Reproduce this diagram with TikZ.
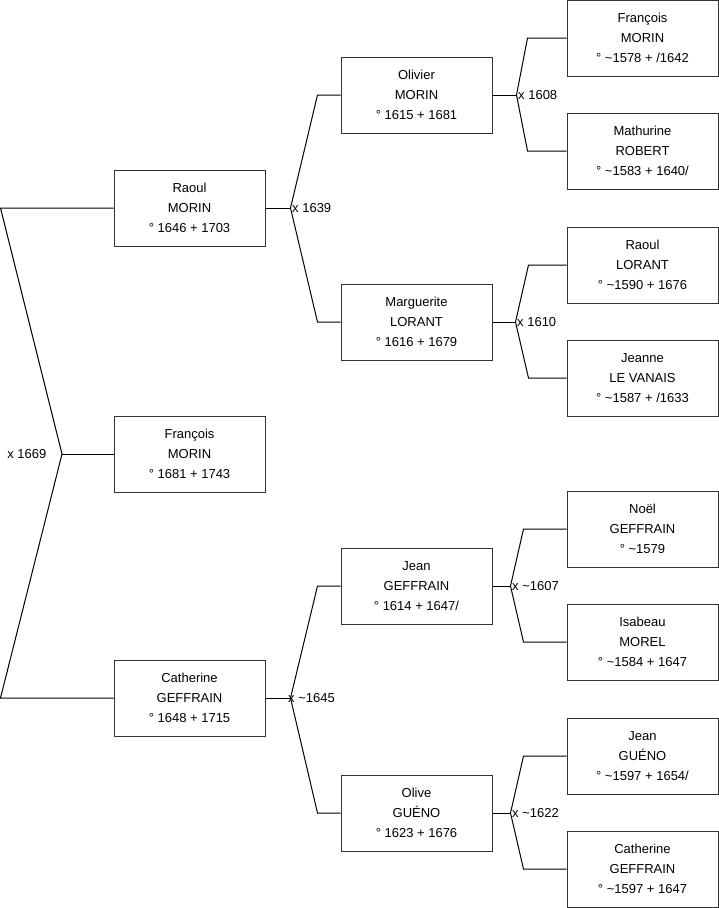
\documentclass[tikz,border=0pt]{standalone}
\usepackage{fontspec}
\setmainfont{Liberation Sans}
\usetikzlibrary{positioning}
\definecolor{boxline}{RGB}{51,51,51}

\begin{document}
\begin{tikzpicture}[
    x=1pt, y=-1pt,
    person/.style={rectangle, draw=boxline, line width=1pt, minimum width=151pt, minimum height=76pt, inner sep=0pt, align=center, font=\fontsize{13}{20}\selectfont},
    link/.style={draw=black, line width=1pt},
    union/.style={font=\fontsize{13}{16}\selectfont, inner sep=1.5pt}
]
    \useasboundingbox (0,0) rectangle (719,908);
    \coordinate (margin) at (0.5,0);

    % Generation 1
    \node[person] (raoul) at (189.5,208) {Raoul\\MORIN\\° 1646 + 1703};
    \node[person] (francois) at (189.5,454) {François\\MORIN\\° 1681 + 1743};
    \node[person] (catherine) at (189.5,698) {Catherine\\GEFFRAIN\\° 1648 + 1715};

    % Generation 2
    \node[person, right=75pt of raoul, yshift=113pt] (olivier) {Olivier\\MORIN\\° 1615 + 1681};
    \node[person, right=75pt of raoul, yshift=-114pt] (marguerite) {Marguerite\\LORANT\\° 1616 + 1679};
    \node[person, right=75pt of catherine, yshift=112pt] (jean) {Jean\\GEFFRAIN\\° 1614 + 1647/};
    \node[person, right=75pt of catherine, yshift=-115pt] (olive) {Olive\\GUÉNO\\° 1623 + 1676};

    % Generation 3
    \node[person, right=74pt of olivier, yshift=57pt] (francoisM) {François\\MORIN\\° \textasciitilde1578 + /1642};
    \node[person, right=74pt of olivier, yshift=-56pt] (mathurine) {Mathurine\\ROBERT\\° \textasciitilde1583 + 1640/};
    \node[person, right=74pt of marguerite, yshift=57pt] (raoulL) {Raoul\\LORANT\\° \textasciitilde1590 + 1676};
    \node[person, right=74pt of marguerite, yshift=-56pt] (jeanne) {Jeanne\\LE VANAIS\\° \textasciitilde1587 + /1633};
    \node[person, right=74pt of jean, yshift=57pt] (noel) {Noël\\GEFFRAIN\\° \textasciitilde1579};
    \node[person, right=74pt of jean, yshift=-56pt] (isabeau) {Isabeau\\MOREL\\° \textasciitilde1584 + 1647};
    \node[person, right=74pt of olive, yshift=57pt] (jeanG) {Jean\\GUÉNO\\° \textasciitilde1597 + 1654/};
    \node[person, right=74pt of olive, yshift=-56pt] (catherineG) {Catherine\\GEFFRAIN\\° \textasciitilde1597 + 1647};

    % Unions
    \coordinate (m1669) at (62,454);
    \draw[link] (raoul.west) -- (raoul.west -| margin) -- (m1669) -- (catherine.west -| margin) -- (catherine.west);
    \draw[link] (m1669) -- (francois.west);
    \node[union, anchor=east] (l1669) at ([xshift=-14pt]m1669) {x 1669};

    \coordinate (m1639) at ([xshift=25pt]raoul.east);
    \draw[link] (raoul.east) -- (m1639);
    \draw[link] (olivier.west) -- ([xshift=-23pt]olivier.west) -- (m1639) -- ([xshift=-23pt]marguerite.west) -- (marguerite.west);
    \node[union, anchor=west] (l1639) at (m1639) {x 1639};

    \coordinate (m1645) at ([xshift=25pt]catherine.east);
    \draw[link] (catherine.east) -- (m1645);
    \draw[link] (jean.west) -- ([xshift=-23pt]jean.west) -- (m1645) -- ([xshift=-23pt]olive.west) -- (olive.west);
    \node[union, anchor=west] (l1645) at ([xshift=-4pt]m1645) {x \textasciitilde1645};

    \coordinate (m1608) at ([xshift=24pt]olivier.east);
    \draw[link] (olivier.east) -- (m1608);
    \draw[link] (francoisM.west) -- ([xshift=-39pt]francoisM.west) -- (m1608) -- ([xshift=-39pt]mathurine.west) -- (mathurine.west);
    \node[union, anchor=west] (l1608) at (m1608) {x 1608};

    \coordinate (m1610) at ([xshift=23pt]marguerite.east);
    \draw[link] (marguerite.east) -- (m1610);
    \draw[link] (raoulL.west) -- ([xshift=-38pt]raoulL.west) -- (m1610) -- ([xshift=-38pt]jeanne.west) -- (jeanne.west);
    \node[union, anchor=west] (l1610) at (m1610) {x 1610};

    \coordinate (m1607) at ([xshift=18pt]jean.east);
    \draw[link] (jean.east) -- (m1607);
    \draw[link] (noel.west) -- ([xshift=-43pt]noel.west) -- (m1607) -- ([xshift=-43pt]isabeau.west) -- (isabeau.west);
    \node[union, anchor=west] (l1607) at (m1607) {x \textasciitilde1607};

    \coordinate (m1622) at ([xshift=18pt]olive.east);
    \draw[link] (olive.east) -- (m1622);
    \draw[link] (jeanG.west) -- ([xshift=-43pt]jeanG.west) -- (m1622) -- ([xshift=-43pt]catherineG.west) -- (catherineG.west);
    \node[union, anchor=west] (l1622) at (m1622) {x \textasciitilde1622};
\end{tikzpicture}
\end{document}
